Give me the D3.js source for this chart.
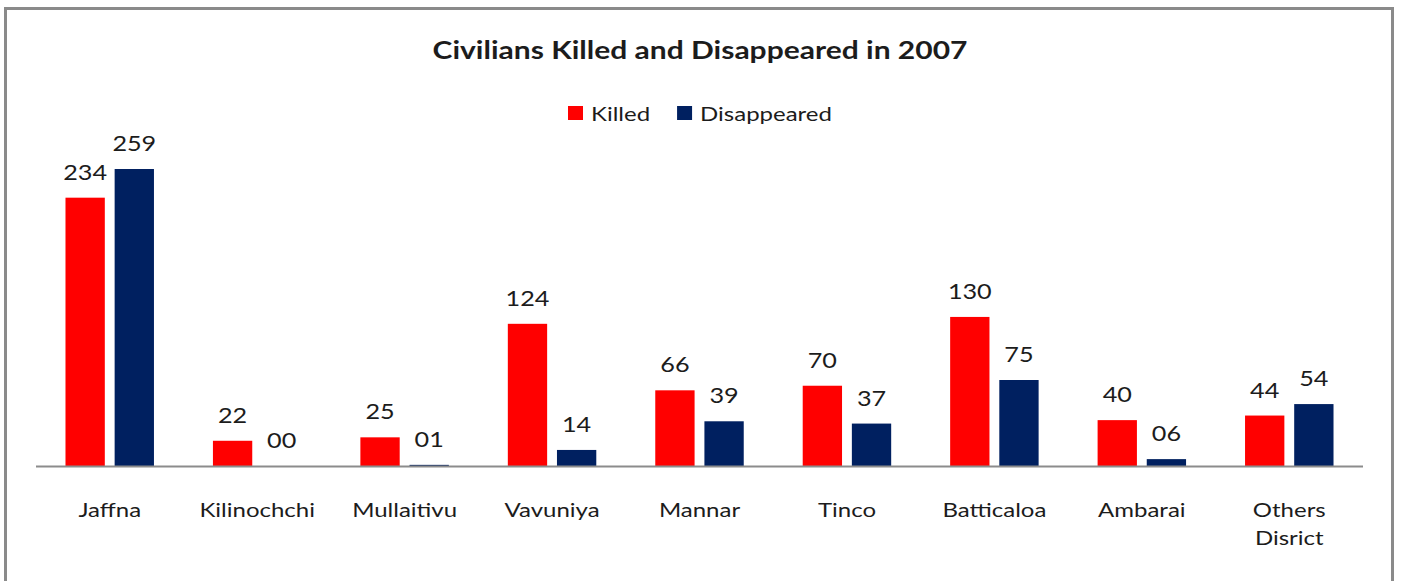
<!DOCTYPE html>
<html>
<head>
<meta charset="utf-8">
<script src="https://cdn.jsdelivr.net/npm/d3@7"></script>
<style>
  html, body { margin: 0; padding: 0; background: #fff; }
  text { font-family: Lato, "Open Sans", sans-serif; fill: #1c1c1c; }
</style>
</head>
<body>
<div id="main"></div>
<script>
// data
var districts = ['Jaffna', 'Kilinochchi', 'Mullaitivu', 'Vavuniya', 'Mannar', 'Tinco', 'Batticaloa', 'Ambarai', 'Others Disrict'];
var killed = [234, 22, 25, 124, 66, 70, 130, 40, 44];
var disappeared = [259, 0, 1, 14, 39, 37, 75, 6, 54];
var seriesNames = ['Killed', 'Disappeared'];
var seriesColors = ['#ff0000', '#002060'];

var W = 1401, H = 581;
var sx = 1.2; // the source picture is stretched sideways, so is the text

var svg = d3.select('#main')
    .append('svg')
    .attr('width', W).attr('height', H);

svg.append('rect')
    .attr('x', 5.5).attr('y', 8.5)
    .attr('width', 1387).attr('height', 600)
    .attr('fill', '#fff')
    .attr('stroke', '#8a8a8a').attr('stroke-width', 3);

// put a text at x,y with the horizontal stretch
function label(g, x, y) {
    return g.append('text')
        .attr('transform', 'translate(' + x + ',' + y + ') scale(' + sx + ',1)');
}

label(svg, 700, 59)
    .attr('text-anchor', 'middle')
    .style('font-size', '25px')
    .style('font-weight', 'bold')
    .text('Civilians Killed and Disappeared in 2007');

var x0 = d3.scaleBand()
    .domain(districts)
    .range([36, 1363])
    .paddingInner(0.4)
    .paddingOuter(0.2);

var x1 = d3.scaleBand()
    .domain(seriesNames)
    .range([0, x0.bandwidth()])
    .paddingInner(0.2);

var y = d3.scaleLinear()
    .domain([0, 300])
    .range([466, 122]);

var color = d3.scaleOrdinal().domain(seriesNames).range(seriesColors);

var rows = districts.map(function(d, i) {
    return { district: d, values: [
        { key: 'Killed', value: killed[i] },
        { key: 'Disappeared', value: disappeared[i] }
    ]};
});

var groups = svg.selectAll('g.group')
    .data(rows)
    .enter().append('g')
    .attr('class', 'group')
    .attr('transform', function(d) { return 'translate(' + x0(d.district) + ',0)'; });

groups.selectAll('rect')
    .data(function(d) { return d.values; })
    .enter().append('rect')
    .attr('x', function(d) { return x1(d.key); })
    .attr('y', function(d) { return y(d.value); })
    .attr('width', x1.bandwidth())
    .attr('height', function(d) { return y(0) - y(d.value); })
    .attr('fill', function(d) { return color(d.key); });

var fmt = d3.format('02d');
groups.each(function(d) {
    var g = d3.select(this);
    d.values.forEach(function(v) {
        label(g, x1(v.key) + x1.bandwidth() / 2, y(v.value) - 18)
            .attr('text-anchor', 'middle')
            .style('font-size', '21px')
            .text(fmt(v.value));
    });
});

// baseline
svg.append('line')
    .attr('x1', x0.range()[0]).attr('x2', x0.range()[1])
    .attr('y1', y(0) + 0.5).attr('y2', y(0) + 0.5)
    .attr('stroke', '#8c8c8c').attr('stroke-width', 2);

// category labels
districts.forEach(function(d) {
    var t = label(svg, x0(d) + x0.bandwidth() / 2, 517)
        .attr('text-anchor', 'middle')
        .style('font-size', '20px');
    d.split(' ').forEach(function(w, i) {
        t.append('tspan').attr('x', 0).attr('dy', i ? 28 : 0).text(w);
    });
});

// legend
var lx = 568;
seriesNames.forEach(function(s) {
    svg.append('rect')
        .attr('x', lx).attr('y', 106)
        .attr('width', 15).attr('height', 14)
        .attr('fill', color(s));
    var t = label(svg, lx + 23, 121)
        .style('font-size', '20px')
        .text(s);
    lx += 23 + t.node().getComputedTextLength() * sx + 27;
});
</script>
</body>
</html>
